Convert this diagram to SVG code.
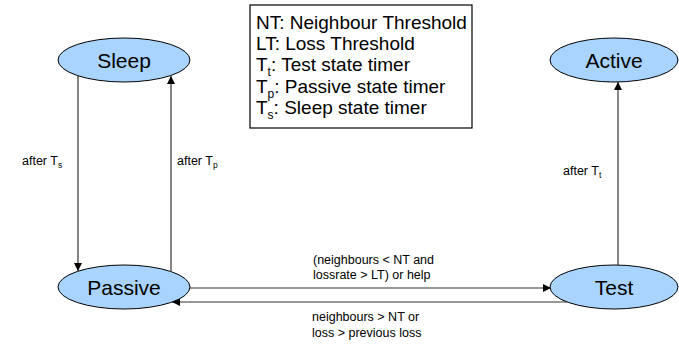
<svg xmlns="http://www.w3.org/2000/svg" width="679" height="344" viewBox="0 0 679 344">
  <style>
    .state { fill: #a9d4ff; stroke: #000; stroke-width: 1; }
    .state-label { font-family: "Liberation Sans", Arial, sans-serif; font-size: 21px; fill: #000; text-anchor: middle; }
    .edge { stroke: #333; stroke-width: 1.2; fill: none; marker-end: url(#arrow); }
    .edge-label { font-family: "Liberation Sans", Arial, sans-serif; font-size: 12.5px; fill: #000; }
    .legend-box { fill: #fff; stroke: #000; stroke-width: 1.2; }
    .legend { font-family: "Liberation Sans", Arial, sans-serif; font-size: 19px; fill: #000; }
    .sub { font-size: 12px; }
    .sub-s { font-size: 8.5px; }
  </style>
  <defs>
    <marker id="arrow" viewBox="0 0 10 10" refX="10" refY="5" markerWidth="8" markerHeight="8" markerUnits="userSpaceOnUse" orient="auto">
      <path d="M0,0 L10,5 L0,10 z" fill="#000"/>
    </marker>
  </defs>

  <rect width="679" height="344" fill="#fff"/>

  <!-- legend -->
  <g id="legend">
    <rect class="legend-box" x="250" y="5" width="222" height="123"/>
    <text class="legend" x="256" y="29">NT: Neighbour Threshold</text>
    <text class="legend" x="256" y="50">LT: Loss Threshold</text>
    <text class="legend" x="256" y="71">T<tspan class="sub" dy="5">t</tspan><tspan dy="-5">: Test state timer</tspan></text>
    <text class="legend" x="256" y="93">T<tspan class="sub" dy="5">p</tspan><tspan dy="-5">: Passive state timer</tspan></text>
    <text class="legend" x="256" y="114">T<tspan class="sub" dy="5">s</tspan><tspan dy="-5">: Sleep state timer</tspan></text>
  </g>

  <!-- transitions -->
  <g id="connectors">
    <line class="edge" x1="78" y1="76" x2="78" y2="271"/>
    <line class="edge" x1="171" y1="271" x2="171" y2="76"/>
    <line class="edge" x1="618" y1="265" x2="618" y2="82"/>
    <line class="edge" x1="190" y1="288" x2="551" y2="288"/>
    <line class="edge" x1="567" y1="302" x2="172" y2="302"/>

    <text class="edge-label" x="22" y="165">after T<tspan class="sub-s" dy="3">s</tspan></text>
    <text class="edge-label" x="177" y="165">after T<tspan class="sub-s" dy="3">p</tspan></text>
    <text class="edge-label" x="563" y="175">after T<tspan class="sub-s" dy="3">t</tspan></text>
    <text class="edge-label" x="313" y="264">(neighbours &lt; NT and</text>
    <text class="edge-label" x="313" y="279">lossrate &gt; LT) or help</text>
    <text class="edge-label" x="312" y="321">neighbours &gt; NT or</text>
    <text class="edge-label" x="312" y="337">loss &gt; previous loss</text>
  </g>

  <!-- states -->
  <g id="sleep">
    <ellipse class="state" cx="124" cy="60" rx="66" ry="22"/>
    <text class="state-label" x="124" y="68">Sleep</text>
  </g>
  <g id="active">
    <ellipse class="state" cx="614" cy="60" rx="64" ry="22"/>
    <text class="state-label" x="614" y="68">Active</text>
  </g>
  <g id="passive">
    <ellipse class="state" cx="124" cy="287" rx="66" ry="22"/>
    <text class="state-label" x="124" y="295">Passive</text>
  </g>
  <g id="test">
    <ellipse class="state" cx="614" cy="287" rx="64" ry="22"/>
    <text class="state-label" x="614" y="295">Test</text>
  </g>
</svg>
